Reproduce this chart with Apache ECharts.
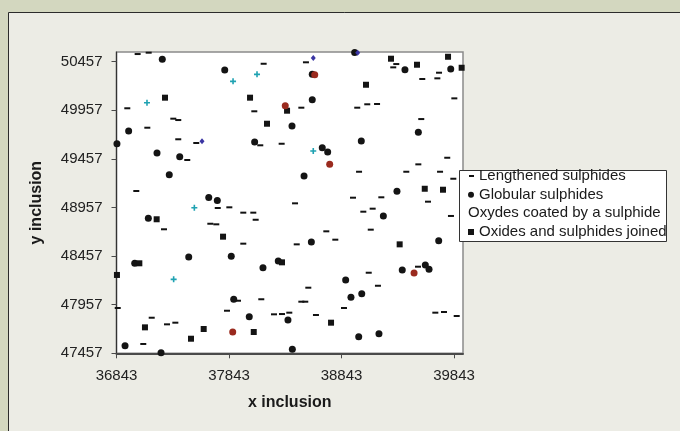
<!DOCTYPE html>
<html><head><meta charset="utf-8">
<script src="https://cdn.jsdelivr.net/npm/echarts@6/dist/echarts.min.js"></script>
<style>html,body{margin:0;padding:0;background:#d3d7bf}#c{width:680px;height:431px}</style>
</head><body><div id="c"></div>
<script>
const xTicks=[36843,37843,38843,39843];
const yTicks=[47457,47957,48457,48957,49457,49957,50457];
const xRange=[36843,39923];
const yRange=[47457,50557];
const seriesNames=['Lengthened sulphides','Globular sulphides','Oxydes coated by a sulphide','Oxides and sulphides joined'];
const lengthened=[[37031,50536],[37129,50550],[38151,50436],[36939,49978],[38068,49947],[37117,49778],[37348,49871],[37392,49857],[37392,49659],[37552,49621],[38121,49597],[38311,49613],[37472,49446],[37019,49127],[38527,50451],[39330,50433],[39303,50399],[39710,50344],[39695,50286],[39561,50279],[38486,49984],[38983,49984],[39072,50019],[39159,50022],[39846,50080],[39552,49867],[38999,49325],[39419,49325],[39719,49325],[39526,49401],[39783,49469],[39837,49253],[38945,49058],[39197,49062],[37743,48952],[37846,48959],[37970,48904],[38059,48904],[38080,48831],[38430,49000],[37265,48733],[37677,48790],[37730,48784],[37970,48585],[38445,48578],[37923,47998],[38130,48013],[36854,47923],[37825,47895],[37156,47823],[38243,47858],[38314,47861],[38379,47875],[37292,47755],[37366,47772],[37081,47553],[39612,49017],[39037,48914],[39120,48945],[39816,48870],[38708,48712],[39103,48729],[38788,48626],[39523,48348],[39085,48286],[39167,48152],[38548,48132],[38486,47988],[38521,47988],[38865,47923],[38616,47851],[39677,47875],[39754,47882],[39867,47841]];
const globular=[[37250,50482],[37805,50372],[38403,49795],[36951,49744],[38071,49631],[36847,49613],[37203,49518],[37405,49480],[37312,49294],[37663,49060],[37739,49029],[38960,50552],[38583,50327],[39407,50375],[39814,50382],[38583,50066],[39526,49731],[39019,49641],[38672,49572],[38720,49528],[38510,49281],[39336,49124],[37126,48846],[37485,48448],[37863,48455],[37005,48383],[38281,48407],[38145,48338],[37885,48013],[38023,47834],[38367,47800],[36919,47535],[37239,47463],[38406,47498],[39215,48870],[38575,48602],[39707,48615],[39383,48314],[39588,48365],[39621,48321],[38880,48211],[39023,48070],[38927,48033],[38996,47628],[39176,47659]];
const oxydesCoated=[[38605,50323],[38343,50004],[38738,49401],[37876,47676],[39488,48283]];
const joined=[[37274,50087],[38030,50087],[38359,49953],[38181,49819],[39283,50488],[39514,50426],[39790,50508],[39911,50395],[39061,50220],[39583,49150],[39745,49140],[37200,48836],[37790,48657],[37046,48383],[38314,48393],[36847,48263],[39360,48578],[37096,47724],[37618,47707],[38063,47676],[37505,47607],[38750,47772]];
const crosses=[[38092,50327],[37879,50255],[37114,50035],[38592,49538],[37535,48955],[37351,48218]];
const diamonds=[[37603,49638],[38592,50495],[38987,50550]];

const FONT="'Liberation Sans', Arial, Helvetica, sans-serif";
const chart=echarts.init(document.getElementById('c'),null,{renderer:'canvas'});
function leg(name,left,top,w,h,extra){
  return Object.assign({show:true,orient:'vertical',left:left,top:top,padding:0,itemGap:0,itemWidth:w,itemHeight:h,
    data:[name],textStyle:{fontFamily:FONT,fontSize:15,color:'#1a1a1a',lineHeight:18,padding:[0,0,0,0]},z:5},extra||{});
}
const plain=v=>String(v);
chart.setOption({
  backgroundColor:'#d3d7bf',
  animation:false,
  graphic:[
    {type:'rect',z:-10,shape:{x:8.5,y:12.5,width:700,height:450},style:{fill:'#ececE5',stroke:'#2b2b2b',lineWidth:1}},
    {type:'rect',z:3,shape:{x:459.5,y:170.5,width:207,height:71},style:{fill:'#ffffff',stroke:'#333333',lineWidth:1}}
  ],
  grid:{left:116.5,right:217,top:52,bottom:77.7,show:true,backgroundColor:'#ffffff',borderColor:'#8a8a8a',borderWidth:1.5},
  legend:[
    leg(seriesNames[0],469,167,5,2),
    leg(seriesNames[1],468,185.7,6,6),
    leg(seriesNames[2],462,204.3,1,1,{data:[{name:seriesNames[2],itemStyle:{opacity:0}}]}),
    leg(seriesNames[3],468,223,6,6)
  ],
  xAxis:{type:'value',min:xRange[0],max:xRange[1],name:'x inclusion',nameLocation:'middle',nameGap:41,
    nameTextStyle:{fontFamily:FONT,fontSize:16,fontWeight:'bold',color:'#1a1a1a'},
    axisLine:{show:true,lineStyle:{color:'#4a4a4a',width:2}},
    axisTick:{show:true,length:5,customValues:xTicks,lineStyle:{color:'#4a4a4a',width:1}},
    axisLabel:{customValues:xTicks,formatter:plain,margin:15,fontFamily:FONT,fontSize:15,color:'#222'},
    splitLine:{show:false}},
  yAxis:{type:'value',min:yRange[0],max:yRange[1],name:'y inclusion',nameLocation:'middle',nameGap:72,nameRotate:90,
    nameTextStyle:{fontFamily:FONT,fontSize:16,fontWeight:'bold',color:'#1a1a1a'},
    axisLine:{show:true,lineStyle:{color:'#333',width:1.2}},
    axisTick:{show:true,length:5,customValues:yTicks,lineStyle:{color:'#4a4a4a',width:1}},
    axisLabel:{customValues:yTicks,formatter:plain,margin:14,fontFamily:FONT,fontSize:15,color:'#222'},
    splitLine:{show:false}},
  series:[
    {name:seriesNames[0],type:'scatter',data:lengthened,symbol:'rect',symbolSize:[6,2],itemStyle:{color:'#111111',opacity:1}},
    {name:seriesNames[1],type:'scatter',data:globular,symbol:'circle',symbolSize:7,itemStyle:{color:'#141414',opacity:1}},
    {name:seriesNames[3],type:'scatter',data:joined,symbol:'rect',symbolSize:6,itemStyle:{color:'#141414',opacity:1}},
    {name:seriesNames[2],type:'scatter',data:oxydesCoated,symbol:'circle',symbolSize:7,itemStyle:{color:'#9a2a1e',opacity:1}},
    {name:'cross',type:'scatter',data:crosses,symbol:'path://M2.2,0h1.6v2.2h2.2v1.6h-2.2v2.2h-1.6v-2.2h-2.2v-1.6h2.2z',symbolSize:6,itemStyle:{color:'#1fa2b2',opacity:1}},
    {name:'diamond',type:'scatter',data:diamonds,symbol:'diamond',symbolSize:[5,6],itemStyle:{color:'#3a35a3',opacity:1}}
  ]
});
</script></body></html>
